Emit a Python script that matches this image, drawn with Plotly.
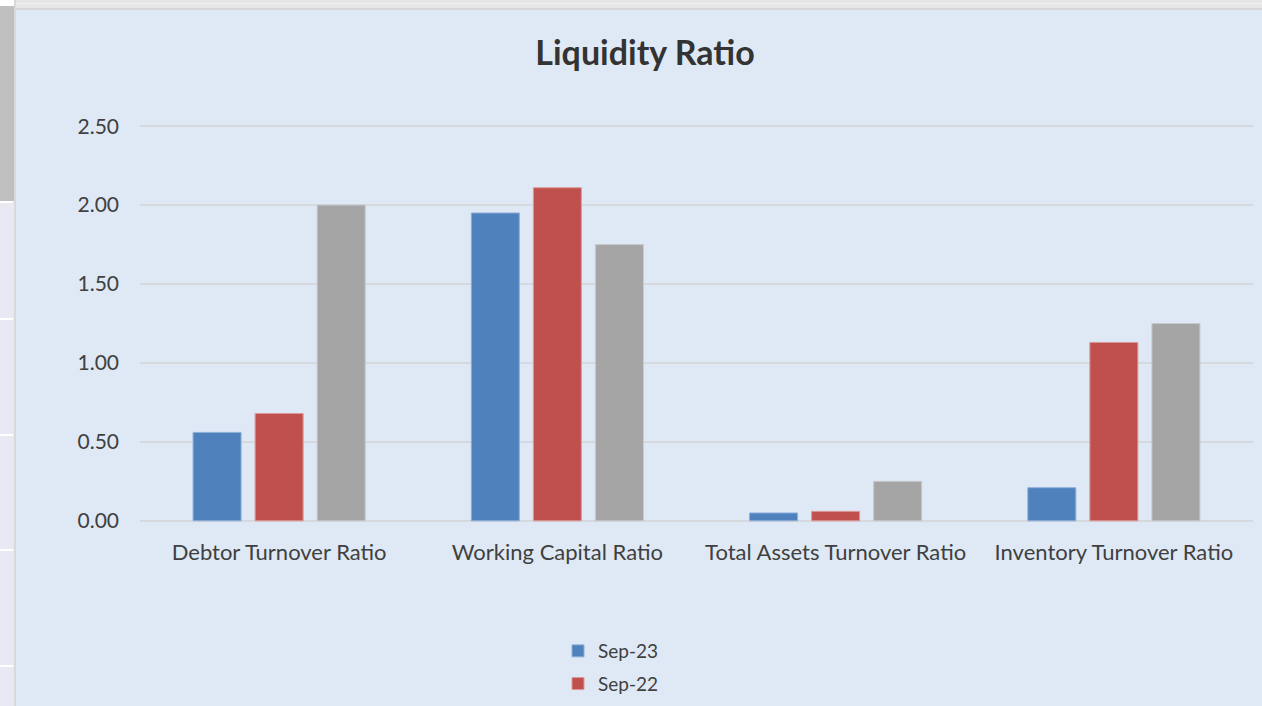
import plotly.graph_objects as go

categories = ["Debtor Turnover Ratio", "Working Capital Ratio",
              "Total Assets Turnover Ratio", "Inventory Turnover Ratio"]
sep23 = [0.56, 1.95, 0.05, 0.21]
sep22 = [0.68, 2.11, 0.06, 1.13]
third = [2.00, 1.75, 0.25, 1.25]
y_ticks = [0, 0.5, 1.0, 1.5, 2.0, 2.5]
y_tick_labels = ["0.00", "0.50", "1.00", "1.50", "2.00", "2.50"]

W, H = 1262, 706
L, R, T, B = 140, 9, 123, 182
pw, ph = W - L - R, H - T - B

def px_x(p):
    return (p - L) / pw

def px_y(p):
    return (H - B - p) / ph

FONT = "Lato"
BG = "#DEE9F5"

fig = go.Figure()
fig.add_trace(go.Bar(x=categories, y=sep23, name="Sep-23", legendgroup="a",
                     marker=dict(color="#4F81BD", line=dict(color="#8FB0DA", width=1))))
fig.add_trace(go.Bar(x=categories, y=sep22, name="Sep-22", legendgroup="b",
                     marker=dict(color="#C0504D", line=dict(color="#DB9A98", width=1))))
fig.add_trace(go.Bar(x=categories, y=third, name="Sep-21", showlegend=False, legendgroup="c",
                     marker=dict(color="#A5A5A5", line=dict(color="#C6C9CE", width=1))))

shapes = [
    # top strip
    dict(type="rect", xref="paper", yref="paper", x0=px_x(0), x1=px_x(W),
         y0=px_y(10), y1=px_y(0), fillcolor="#E6E6E6", line=dict(width=0), layer="above"),
    dict(type="line", xref="paper", yref="paper", x0=px_x(0), x1=px_x(W),
         y0=px_y(3.5), y1=px_y(3.5), line=dict(color="#F2F2F2", width=1), layer="above"),
    dict(type="line", xref="paper", yref="paper", x0=px_x(0), x1=px_x(W),
         y0=px_y(9), y1=px_y(9), line=dict(color="#D6D6D6", width=2), layer="above"),
    # left strip
    dict(type="rect", xref="paper", yref="paper", x0=px_x(0), x1=px_x(14),
         y0=px_y(H), y1=px_y(201), fillcolor="#E8E9F2", line=dict(width=0), layer="above"),
    dict(type="rect", xref="paper", yref="paper", x0=px_x(0), x1=px_x(14),
         y0=px_y(201), y1=px_y(0), fillcolor="#C0C0C0", line=dict(width=0), layer="above"),
    dict(type="line", xref="paper", yref="paper", x0=px_x(15), x1=px_x(15),
         y0=px_y(H), y1=px_y(0), line=dict(color="#D9D9D9", width=2), layer="above"),
    dict(type="rect", xref="paper", yref="paper", x0=px_x(0), x1=px_x(14),
         y0=px_y(6), y1=px_y(0), fillcolor="#FFFFFF", line=dict(width=0), layer="above"),
]
for yy in [202, 319, 435, 550, 666]:
    shapes.append(dict(type="line", xref="paper", yref="paper", x0=px_x(0), x1=px_x(13),
                       y0=px_y(yy), y1=px_y(yy), line=dict(color="#FFFFFF", width=2), layer="above"))

fig.update_layout(
    width=W, height=H,
    margin=dict(l=L, r=R, t=T, b=B, autoexpand=False),
    paper_bgcolor=BG, plot_bgcolor=BG,
    font=dict(family=FONT, color="#404040", size=22),
    title=dict(text="<b>Liquidity Ratio</b>", x=645 / W, xanchor="center",
               y=1 - 53 / H, yanchor="middle", xref="container", yref="container",
               font=dict(family=FONT, size=34, color="#333333")),
    barmode="group", bargap=0.331, bargroupgap=0.226,
    showlegend=True,
    legend=dict(x=px_x(558), y=px_y(632), xanchor="left", yanchor="top",
                bgcolor="rgba(0,0,0,0)", font=dict(size=19, color="#404040"),
                itemwidth=30, tracegroupgap=5),
    shapes=shapes,
)
fig.update_xaxes(showgrid=False, showline=False, ticks="", ticklabelstandoff=13,
                 tickfont=dict(size=22, color="#404040"))
fig.update_yaxes(range=[-0.02, 2.52], tickvals=y_ticks, ticktext=y_tick_labels,
                 showgrid=True, gridcolor="#D5D9DE", gridwidth=2, zeroline=False,
                 showline=False, ticks="", ticklabelstandoff=20,
                 tickfont=dict(size=21, color="#404040"))

fig.write_html("out.html", config={"displayModeBar": False},
               post_script="document.body.style.margin='0';")
